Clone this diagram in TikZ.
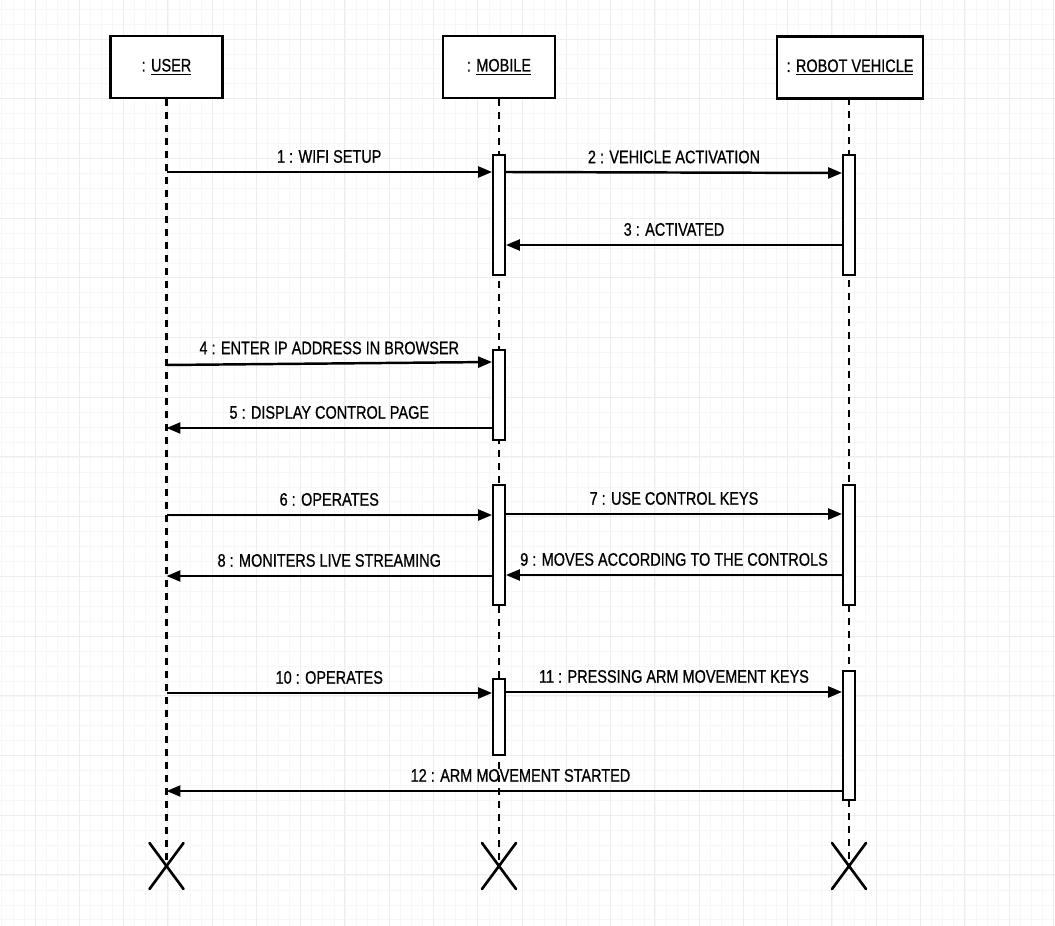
\documentclass[tikz,border=0pt]{standalone}
\usepackage{fontspec}
\setmainfont{Liberation Sans}[FakeStretch=0.8, FakeBold=0.7]
\usetikzlibrary{arrows.meta}
\newcommand{\seqfont}{\fontsize{10.3pt}{12pt}\selectfont}
\tikzset{
  >={Triangle[length=0.28cm,width=0.22cm]},
  gridminor/.style={draw=gray!6, line width=0.4pt},
  gridmajor/.style={draw=gray!14, line width=0.5pt},
  obj/.style={draw, line width=1.6pt, fill=white, minimum height=1.24cm, inner sep=0pt, font=\seqfont},
  act/.style={draw, line width=1.1pt, fill=white, minimum width=0.24cm, inner sep=0pt},
  life/.style={line width=1.3pt, dash pattern=on 0.14cm off 0.12cm},
  msg/.style={->, line width=1.4pt},
  lbl/.style={above=4.5pt, inner sep=0pt, font=\seqfont},
  endx/.style={line width=1.5pt, line cap=round}
}

\begin{document}
\begin{tikzpicture}[x=0.02cm, y=-0.02cm]
\useasboundingbox (0,0) rectangle (1055,926);
\fill[white] (0,0) rectangle (1055,926);

% background grid
\foreach \i in {0,...,95}
  \draw[gridminor] ({1.8+11.07*\i},0) -- ({1.8+11.07*\i},926);
\foreach \j in {0,...,61}
  \draw[gridminor] (0,{9.1+14.93*\j}) -- (1055,{9.1+14.93*\j});
\foreach \i in {0,...,23}
  \draw[gridmajor] ({35+44.27*\i},0) -- ({35+44.27*\i},926);
\foreach \j in {0,...,14}
  \draw[gridmajor] (0,{39+59.7*\j}) -- (1055,{39+59.7*\j});

% objects
\node[obj, minimum width=2.24cm] (user) at (166.5,67) {: \underline{USER}};
\node[obj, minimum width=2.24cm] (mobile) at (499,67) {: \underline{MOBILE}};
\node[obj, minimum width=2.92cm] (robot) at (850,67.5) {: \underline{ROBOT VEHICLE}};

% lifelines
\coordinate (uend) at (user |- 0,866);
\coordinate (mend) at (mobile |- 0,866);
\coordinate (rend) at (849,866);
\draw[life] (user.south) -- (uend);
\draw[life] (mobile.south) -- (mend);
\draw[life] (849,98.5) -- (rend);

% activations
\node[act, minimum height=2.4cm] (mb1) at (499,215) {};
\node[act, minimum height=2.4cm] (rb1) at (849,215) {};
\node[act, minimum height=1.8cm] (mb2) at (499,395) {};
\node[act, minimum height=2.4cm] (mb3) at (499,545) {};
\node[act, minimum height=2.4cm] (rb2) at (849,545) {};
\node[act, minimum height=1.52cm] (mb4) at (499,717) {};
\node[act, minimum height=2.58cm] (rb3) at (849,735.5) {};

% messages
\draw[msg] (user |- 0,172) -- node[lbl] {1 : WIFI SETUP} (mb1.west |- 0,172);
\draw[msg] (mb1.east |- 0,172) -- node[lbl] {2 : VEHICLE ACTIVATION} (rb1.west |- 0,173);
\draw[msg] (rb1.west |- 0,245) -- node[lbl] {3 : ACTIVATED} (mb1.east |- 0,245);
\draw[msg] (user |- 0,365) -- node[lbl] {4 : ENTER IP ADDRESS IN BROWSER} (mb2.west |- 0,362);
\draw[msg] (mb2.west |- 0,428) -- node[lbl] {5 : DISPLAY CONTROL PAGE} (user |- 0,428);
\draw[msg] (user |- 0,515) -- node[lbl] {6 : OPERATES} (mb3.west |- 0,515);
\draw[msg] (mb3.east |- 0,514) -- node[lbl] {7 : USE CONTROL KEYS} (rb2.west |- 0,514);
\draw[msg] (mb3.west |- 0,576) -- node[lbl] {8 : MONITERS LIVE STREAMING} (user |- 0,576);
\draw[msg] (rb2.west |- 0,575) -- node[lbl] {9 : MOVES ACCORDING TO THE CONTROLS} (mb3.east |- 0,575);
\draw[msg] (user |- 0,693) -- node[lbl] {10 : OPERATES} (mb4.west |- 0,693);
\draw[msg] (mb4.east |- 0,692) -- node[lbl] {11 : PRESSING ARM MOVEMENT KEYS} (rb3.west |- 0,692);
\draw[msg] (rb3.west |- 0,791) -- node[lbl, pos=0.476] {12 : ARM MOVEMENT STARTED} (user |- 0,791);

% destruction marks
\foreach \e in {uend, mend, rend} {
  \draw[endx] (\e) ++(-17,-23) -- ++(34,46);
  \draw[endx] (\e) ++(17,-23) -- ++(-34,46);
}
\end{tikzpicture}
\end{document}
